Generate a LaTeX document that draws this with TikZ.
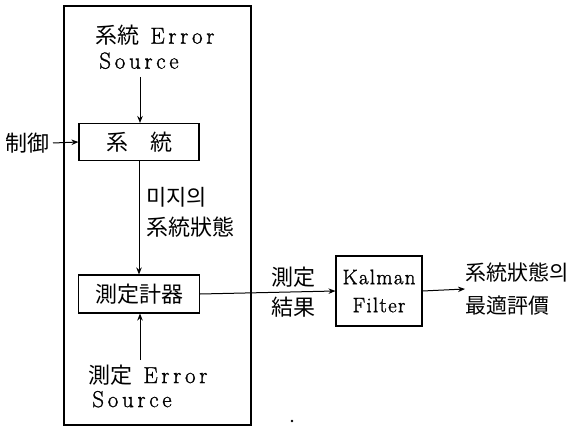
\documentclass[tikz,border=0pt]{standalone}
\usepackage{fontspec}
\setmainfont{Latin Modern Roman}
\newfontfamily\kr{Noto Sans CJK KR}
\newfontfamily\latw[LetterSpace=16,FakeBold=1.2]{Latin Modern Roman}
\newfontfamily\latn[LetterSpace=6,FakeBold=1.2]{Latin Modern Roman}
\usetikzlibrary{arrows.meta}
\begin{document}
\begin{tikzpicture}[x=1pt,y=-1pt,
  line width=1pt,
  box/.style={draw,line width=1.1pt,inner sep=0pt,align=center},
  arr/.style={-{Stealth[length=7pt,width=5.5pt]},line width=1pt},
  lbl/.style={inner sep=0pt,align=left},
  cj/.style={font=\kr\fontsize{22}{30}\selectfont},
]
\useasboundingbox (0,0) rectangle (572,427);
% outer frame
\draw[line width=1.1pt] (64,6) rectangle (251,425);
% boxes
\node[box,cj,minimum width=120pt,minimum height=37pt] (sys) at (139,142) {系\quad 統};
\node[box,cj,minimum width=121pt,minimum height=38pt] (meas) at (139,294) {測定計器};
\node[box,minimum width=86pt,minimum height=70pt,font=\latn\fontsize{21}{28}\selectfont] (kf) at (379,291) {Kalman\\Filter};
% labels
\node[lbl,anchor=west,font=\fontsize{23}{25}\selectfont] (syserr) at (95,47) {{\kr\fontsize{22}{25}\selectfont 系統}\ \,{\latw Error}\\\,{\latw Source}};
\node[lbl,cj,anchor=east] (ctrl) at (50,143) {制御};
\node[lbl,cj,anchor=west] (hidden) at (146,212) {미지의\\系統狀態};
\node[lbl,anchor=west,font=\fontsize{23}{24}\selectfont] (merr) at (88,386) {{\kr\fontsize{22}{24}\selectfont 測定}\ \,{\latw Error}\\\,{\latw Source}};
\node[lbl,cj,anchor=west] (res) at (271,292) {測定\\結果};
\node[lbl,anchor=west,font=\kr\fontsize{21}{33}\selectfont] (out) at (465,289) {系統狀態의\\最適評價};
% connectors
\coordinate (syserrb) at (140,77);
\coordinate (merrt) at (140,360);
\draw[arr] (syserrb) -- (syserrb |- sys.north);
\draw[arr] (ctrl.east) ++(3,0) -- (sys.west);
\draw[arr] (sys.south) -- (meas.north);
\draw[arr] (merrt) -- (merrt |- meas.south);
\draw[arr] (meas.east) -- (kf.west);
\draw[arr] (kf.east) -- (out.west);
% speck
\fill (292,421) circle (1.3pt);
\end{tikzpicture}
\end{document}
